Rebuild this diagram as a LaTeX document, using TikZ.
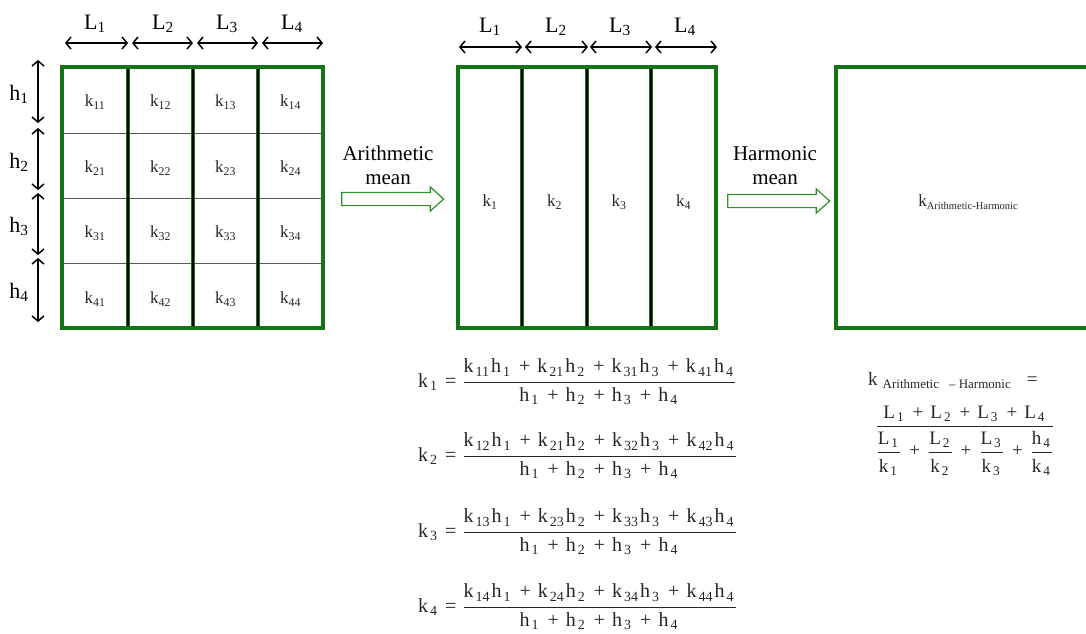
\documentclass[tikz,border=0pt]{standalone}
\usepackage{fontspec}
\setmainfont{Liberation Serif}
\usetikzlibrary{arrows.meta,shapes.arrows}

\definecolor{gridgreen}{RGB}{20,115,20}
\definecolor{arrowgreen}{RGB}{45,145,45}

% symbol with subscript, tight (cells) and spaced (equations)
\newcommand\sub[2]{#1\textsubscript{#2}}
\newcommand\gsub[2]{#1\kern2pt\textsubscript{#2}\kern1.5pt}
\newcommand\pls{\hspace{7pt}+\hspace{7pt}}
\newcommand\spls{\mbox{\hspace{8pt}+\hspace{8pt}}}

\tikzset{
  dim/.style={{Straight Barb[length=5pt,width=12pt]}-{Straight Barb[length=5pt,width=12pt]}, line width=1.5pt, black},
  border/.style={draw=gridgreen, line width=3.5pt},
  colgreen/.style={draw=gridgreen, line width=3.5pt},
  colblack/.style={draw=black, line width=1.1pt},
  rowline/.style={draw=black!65, line width=0.9pt},
  cell/.style={font=\fontsize{17}{20}\selectfont, inner sep=0pt, text=black!85},
  dimlabel/.style={font=\fontsize{22}{26}\selectfont, inner sep=0pt},
  meanlabel/.style={font=\fontsize{21}{24}\selectfont, align=center, inner sep=0pt},
  hollow/.style={single arrow, draw=arrowgreen, line width=1.2pt, fill=white,
    inner sep=6pt, minimum height=102pt, single arrow head extend=5.5pt,
    single arrow tip angle=84},
  formula/.style={font=\fontsize{20}{24}\selectfont, inner sep=0pt, text=black!85},
  rformula/.style={font=\fontsize{19}{23}\selectfont, inner sep=0pt, text=black!85},
}

\begin{document}
\begin{tikzpicture}[x=1pt,y=-1pt]
\useasboundingbox (0,0) rectangle (1086,633);

% ---------- fine grid of cells ----------
\foreach \y in {133,198,263} \draw[rowline] (62,\y) -- (323,\y);
\foreach \x in {128,193,258} {
  \draw[colgreen] (\x,67) -- (\x,328);
  \draw[colblack] (\x,67) -- (\x,328);
}
\draw[border] (62,67) rectangle (323,328);
\foreach \r/\y in {1/102,2/168,3/233,4/299}
  \foreach \c/\x in {1/95,2/160.5,3/225.5,4/290.5}
    \node[cell] (k\r\c) at (\x,\y) {\sub{k}{\r\c}};

% widths L above the grid
\foreach \i/\a/\b in {1/65/128,2/132/193,3/197/258,4/262/323} {
  \coordinate (wa\i) at (\a,43);
  \coordinate (wb\i) at (\b,43);
  \draw[dim] (wa\i) -- (wb\i);
}
\foreach \i/\x in {1/95,2/163,3/227,4/292}
  \node[dimlabel] (wl\i) at (\x,24) {\sub{L}{\i}};

% heights h left of the grid
\foreach \i/\a/\b in {1/60/123,2/128/190,3/193/255,4/258/322} {
  \coordinate (ha\i) at (38,\a);
  \coordinate (hb\i) at (38,\b);
  \draw[dim] (ha\i) -- (hb\i);
}
\foreach \i/\y in {1/94,2/162,3/226,4/292}
  \node[dimlabel] (hl\i) at (19,\y) {\sub{h}{\i}};

% ---------- arithmetic mean step ----------
\node[meanlabel] (amtext) at (388,165) {Arithmetic\\mean};
\node[hollow] (amarrow) at (389,199) {};

% ---------- column layers ----------
\foreach \x in {522,587,651} {
  \draw[colgreen] (\x,67) -- (\x,328);
  \draw[colblack] (\x,67) -- (\x,328);
}
\draw[border] (458,67) rectangle (716,328);
\foreach \c/\x in {1/490,2/554.5,3/619,4/683.5}
  \node[cell] (kc\c) at (\x,202) {\sub{k}{\c}};

\foreach \i/\a/\b in {1/459/522,2/525/588,3/590/652,4/655/717} {
  \coordinate (va\i) at (\a,47);
  \coordinate (vb\i) at (\b,47);
  \draw[dim] (va\i) -- (vb\i);
}
\foreach \i/\x in {1/490,2/556,3/620,4/685}
  \node[dimlabel] (vl\i) at (\x,27) {\sub{L}{\i}};

% ---------- harmonic mean step ----------
\node[meanlabel] (hmtext) at (775,166) {Harmonic\\mean};
\node[hollow] (hmarrow) at (775,201) {};

% ---------- single equivalent block ----------
\draw[border] (1095,67) -- (836,67) -- (836,328) -- (1095,328);
\node[inner sep=0pt, text=black!85] (kah) at (968,202)
  {\fontsize{17}{20}\selectfont k\raisebox{-3pt}{\fontsize{10.5}{12}\selectfont Arithmetic-Harmonic}};

% ---------- arithmetic averages of the columns ----------
\node[formula, anchor=base west] (eq1) at (418,387)
  {$\mbox{\gsub{k}{1}\hspace{6pt}=\hspace{6pt}}\displaystyle\frac{\mbox{\gsub{k}{11}\gsub{h}{1}\pls\gsub{k}{21}\gsub{h}{2}\pls\gsub{k}{31}\gsub{h}{3}\pls\gsub{k}{41}\gsub{h}{4}}}{\mbox{\gsub{h}{1}\pls\gsub{h}{2}\pls\gsub{h}{3}\pls\gsub{h}{4}}}$};
\node[formula, anchor=base west] (eq2) at (418,461)
  {$\mbox{\gsub{k}{2}\hspace{6pt}=\hspace{6pt}}\displaystyle\frac{\mbox{\gsub{k}{12}\gsub{h}{1}\pls\gsub{k}{21}\gsub{h}{2}\pls\gsub{k}{32}\gsub{h}{3}\pls\gsub{k}{42}\gsub{h}{4}}}{\mbox{\gsub{h}{1}\pls\gsub{h}{2}\pls\gsub{h}{3}\pls\gsub{h}{4}}}$};
\node[formula, anchor=base west] (eq3) at (418,537)
  {$\mbox{\gsub{k}{3}\hspace{6pt}=\hspace{6pt}}\displaystyle\frac{\mbox{\gsub{k}{13}\gsub{h}{1}\pls\gsub{k}{23}\gsub{h}{2}\pls\gsub{k}{33}\gsub{h}{3}\pls\gsub{k}{43}\gsub{h}{4}}}{\mbox{\gsub{h}{1}\pls\gsub{h}{2}\pls\gsub{h}{3}\pls\gsub{h}{4}}}$};
\node[formula, anchor=base west] (eq4) at (418,612)
  {$\mbox{\gsub{k}{4}\hspace{6pt}=\hspace{6pt}}\displaystyle\frac{\mbox{\gsub{k}{14}\gsub{h}{1}\pls\gsub{k}{24}\gsub{h}{2}\pls\gsub{k}{34}\gsub{h}{3}\pls\gsub{k}{44}\gsub{h}{4}}}{\mbox{\gsub{h}{1}\pls\gsub{h}{2}\pls\gsub{h}{3}\pls\gsub{h}{4}}}$};

% ---------- harmonic average of the layers ----------
\node[rformula, anchor=base west] (eqh) at (868,385)
  {k\kern5pt\raisebox{-3pt}{\fontsize{13}{15}\selectfont Arithmetic\hspace{10pt}– Harmonic}\hspace{16pt}=};
\node[rformula, anchor=base] (eqhf) at (965,430.5)
  {$\displaystyle\frac{\mbox{\gsub{L}{1}\pls\gsub{L}{2}\pls\gsub{L}{3}\pls\gsub{L}{4}}}%
  {\rule{0pt}{29pt}{\displaystyle\frac{\mbox{\gsub{L}{1}}}{\mbox{\rule{0pt}{19pt}\gsub{k}{1}}}}\spls
   {\displaystyle\frac{\mbox{\gsub{L}{2}}}{\mbox{\rule{0pt}{19pt}\gsub{k}{2}}}}\spls
   {\displaystyle\frac{\mbox{\gsub{L}{3}}}{\mbox{\rule{0pt}{19pt}\gsub{k}{3}}}}\spls
   {\displaystyle\frac{\mbox{\gsub{h}{4}}}{\mbox{\rule{0pt}{19pt}\gsub{k}{4}}}}}$};
\end{tikzpicture}
\end{document}
